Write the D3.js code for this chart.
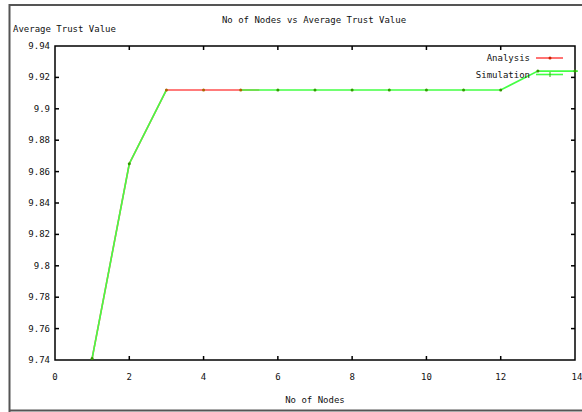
<!DOCTYPE html>
<html><head><meta charset="utf-8">
<script src="https://cdn.jsdelivr.net/npm/d3@7"></script>
<style>body{margin:0;background:#fff}svg{display:block}text{font-family:"DejaVu Sans Mono",monospace;font-size:9px;fill:#111}</style>
</head><body><svg id="c" width="582" height="412"></svg>
<script>
const analysisX = [1, 2, 3, 4, 5, 5.5];
const analysisY = [9.741, 9.865, 9.912, 9.912, 9.912, 9.912];
const simX = [1, 2, 3, 4, 5, 6, 7, 8, 9, 10, 11, 12, 13, 14];
const simY = [9.741, 9.865, 9.912, 9.912, 9.912, 9.912, 9.912, 9.912, 9.912, 9.912, 9.912, 9.912, 9.924, 9.924];
const xTicks = [0, 2, 4, 6, 8, 10, 12, 14];
const yTicks = [9.74, 9.76, 9.78, 9.8, 9.82, 9.84, 9.86, 9.88, 9.9, 9.92, 9.94];
const title = "No of Nodes vs Average Trust Value";
const xLabel = "No of Nodes";
const yLabel = "Average Trust Value";
const seriesNames = ["Analysis", "Simulation"];

const svg = d3.select("#c");
const L = 55, R = 575, T = 46, B = 360;
const x = d3.scaleLinear().domain([0, 14]).range([L, R]);
const y = d3.scaleLinear().domain([9.74, 9.94]).range([B, T]);

// frame
svg.append("path").attr("d", "M9.5,412 L9.5,5 L582,5").attr("fill", "none").attr("stroke", "#555").attr("stroke-width", 2);
svg.append("line").attr("x1", 9).attr("x2", 582).attr("y1", 410.5).attr("y2", 410.5).attr("stroke", "#555").attr("stroke-width", 2);

// ticks
const g = svg.append("g");
xTicks.forEach(t => {
  if (t > 0 && t < 14) {
    g.append("line").attr("x1", x(t)).attr("x2", x(t)).attr("y1", B).attr("y2", B - 4).attr("stroke", "#000").attr("stroke-width", 1.5);
    g.append("line").attr("x1", x(t)).attr("x2", x(t)).attr("y1", T).attr("y2", T + 4).attr("stroke", "#000").attr("stroke-width", 1.5);
  }
  g.append("text").attr("x", x(t) + (t === 14 ? 2 : 0)).attr("y", 380).attr("text-anchor", "middle").text(t);
});
yTicks.forEach(t => {
  if (t > 9.741 && t < 9.939) {
    g.append("line").attr("x1", L).attr("x2", L + 4).attr("y1", y(t)).attr("y2", y(t)).attr("stroke", "#000").attr("stroke-width", 1.5);
    g.append("line").attr("x1", R).attr("x2", R - 4).attr("y1", y(t)).attr("y2", y(t)).attr("stroke", "#000").attr("stroke-width", 1.5);
  }
  g.append("text").attr("x", 50).attr("y", y(t) + 3).attr("text-anchor", "end").text(String(+t.toFixed(2)));
});
svg.append("rect").attr("x", L).attr("y", T).attr("width", R - L).attr("height", B - T).attr("fill", "none").attr("stroke", "#000").attr("stroke-width", 1.5);

const line = d3.line().x(d => x(d[0])).y(d => y(d[1]));
const aData = analysisX.map((v, i) => [v, analysisY[i]]);
const sData = simX.map((v, i) => [v, simY[i]]);

svg.append("path").datum(aData).attr("d", line).attr("fill", "none").attr("stroke", "#ff5050").attr("stroke-width", 1.6);
svg.append("path").datum(sData.slice(0, 3)).attr("d", line).attr("fill", "none").attr("stroke", "#44ff44").attr("stroke-width", 1.6);
svg.append("path").datum(sData.slice(4)).attr("d", line).attr("fill", "none").attr("stroke", "#44ff44").attr("stroke-width", 1.6);
svg.append("line").attr("x1", x(14)).attr("x2", x(14) + 3).attr("y1", y(9.924)).attr("y2", y(9.924)).attr("stroke", "#44ff44").attr("stroke-width", 1.6);
svg.append("path").datum(sData.slice(2, 5)).attr("d", line).attr("fill", "none").attr("stroke", "#ff5050").attr("stroke-width", 0).attr("opacity", 0);

aData.slice(2, 5).forEach(d => svg.append("circle").attr("cx", x(d[0])).attr("cy", y(d[1])).attr("r", 1.5).attr("fill", "#aa6600"));
sData.forEach((d, i) => { if (i < 2 || i > 4) svg.append("circle").attr("cx", x(d[0])).attr("cy", y(d[1])).attr("r", 1.5).attr("fill", "#339900"); });

// legend
const lx1 = 536, lx2 = 563;
[["#ff5050", 58], ["#44ff44", 74.5]].forEach(([c, yy], i) => {
  svg.append("text").attr("x", 530).attr("y", yy + 3).attr("text-anchor", "end").text(seriesNames[i]);
  svg.append("line").attr("x1", lx1).attr("x2", lx2).attr("y1", yy).attr("y2", yy).attr("stroke", c).attr("stroke-width", 1.6);
});
svg.append("circle").attr("cx", 550).attr("cy", 58).attr("r", 1.5).attr("fill", "#cc2200");
svg.append("line").attr("x1", 550).attr("x2", 550).attr("y1", 72).attr("y2", 77).attr("stroke", "#22bb00").attr("stroke-width", 1);

svg.append("text").attr("x", 314).attr("y", 23).attr("text-anchor", "middle").text(title);
svg.append("text").attr("x", 13).attr("y", 32).text(yLabel);
svg.append("text").attr("x", 315).attr("y", 403).attr("text-anchor", "middle").text(xLabel);
</script></body></html>
